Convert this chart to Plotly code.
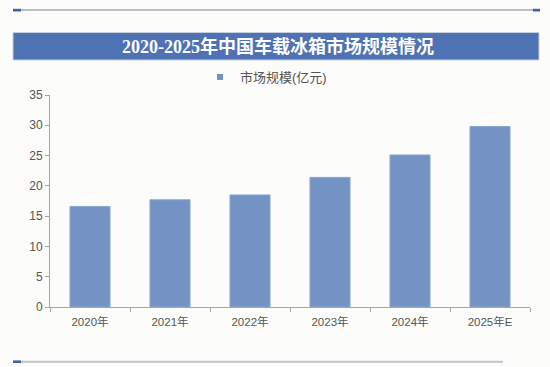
import plotly.graph_objects as go

categories = ["2020年", "2021年", "2022年", "2023年", "2024年", "2025年E"]
market_size = [16.6, 17.7, 18.5, 21.4, 25.1, 29.8]
series_name = "市场规模(亿元)"
title_text = "2020-2025年中国车载冰箱市场规模情况"

W, H = 550, 367
L, R, T, B = 50, 20, 95, 60
PW, PH = W - L - R, H - T - B

def px(x):
    return (x - L) / PW

def py(y):
    return (H - B - y) / PH

BAR = "#7393c4"
BANNER = "#4e72b3"
SANS = "Liberation Sans, Arial, Noto Sans CJK SC, sans-serif"

fig = go.Figure()
fig.add_trace(go.Bar(
    x=categories, y=market_size, name=series_name,
    marker=dict(color=BAR, line=dict(color="#8aa6d0", width=1)),
    width=0.5, showlegend=False,
))
fig.add_trace(go.Scatter(
    x=[None], y=[None], mode="markers", name=series_name,
    marker=dict(symbol="square", size=6, color=BAR), showlegend=True,
))

shapes = [
    # top decorative line and end squares
    dict(type="line", xref="paper", yref="paper", x0=px(21), x1=px(533), y0=py(10), y1=py(10),
         line=dict(color="#b9bdc5", width=2)),
    dict(type="rect", xref="paper", yref="paper", x0=px(13), x1=px(21), y0=py(11.5), y1=py(8.8),
         fillcolor="#3e64a8", line=dict(width=0)),
    dict(type="rect", xref="paper", yref="paper", x0=px(533), x1=px(540), y0=py(11.5), y1=py(8.8),
         fillcolor="#3e64a8", line=dict(width=0)),
    # title banner
    dict(type="rect", xref="paper", yref="paper", x0=px(13), x1=px(539), y0=py(60), y1=py(32.5),
         fillcolor=BANNER, line=dict(color="#c7d0de", width=1), layer="below"),
    # bottom decorative line
    dict(type="line", xref="paper", yref="paper", x0=px(21), x1=px(503), y0=py(361.7), y1=py(361.7),
         line=dict(color="#bfc2c8", width=2)),
    dict(type="rect", xref="paper", yref="paper", x0=px(13), x1=px(21), y0=py(363), y1=py(360.4),
         fillcolor="#3e64a8", line=dict(width=0)),
]

fig.update_layout(
    width=W, height=H,
    margin=dict(l=L, r=R, t=T, b=B),
    paper_bgcolor="#fcfcfa", plot_bgcolor="#fcfcfa",
    font=dict(family=SANS, size=12, color="#555555"),
    title=dict(text=f"<b>{title_text}</b>", x=278 / W, y=1 - 46.5 / H,
               xref="container", yref="container", xanchor="center", yanchor="middle",
               font=dict(family="Liberation Serif, Noto Sans CJK SC, serif", size=18, color="white")),
    legend=dict(orientation="h", x=px(266), y=py(77), xanchor="center", yanchor="middle",
                bgcolor="rgba(0,0,0,0)", font=dict(size=13, color="#555555"),
                itemwidth=30),
    shapes=shapes,
    bargap=0.5,
    xaxis=dict(type="category", showline=True, linecolor="#a6a6a6", linewidth=1,
               ticks="outside", tickson="boundaries", ticklen=4, tickcolor="#a6a6a6",
               ticklabelstandoff=4,
               showgrid=False, tickfont=dict(size=11.5, color="#555555")),
    yaxis=dict(range=[0, 35], dtick=5, showline=True, linecolor="#a6a6a6", linewidth=1,
               ticks="outside", ticklen=4, tickcolor="#a6a6a6", showgrid=False, zeroline=False,
               tickfont=dict(size=12, color="#555555")),
)

fig.write_html("out.html", config={"displayModeBar": False},
               post_script="document.body.style.margin='0';document.body.style.background='#fcfcfa';")
